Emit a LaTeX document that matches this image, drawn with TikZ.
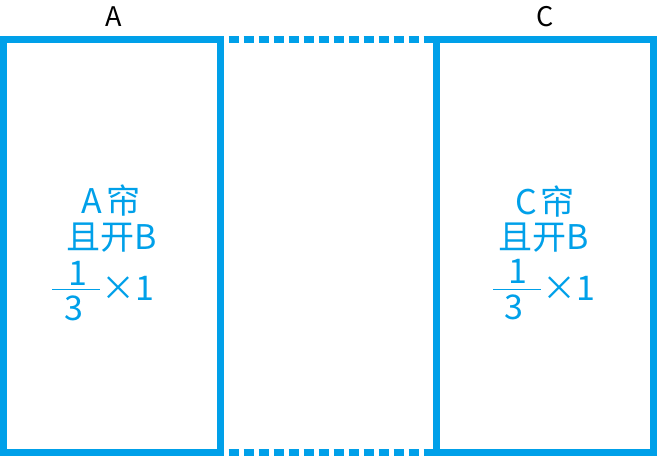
\documentclass[tikz,border=0pt]{standalone}
\usepackage{fontspec}
\setmainfont{Noto Sans CJK SC}
\definecolor{panelblue}{RGB}{0,160,233}
\tikzset{
	panel/.style={draw=panelblue,line width=6.6pt,minimum width=217pt,minimum height=413pt,outer sep=0pt,inner sep=0pt},
	gapline/.style={draw=panelblue,line width=6.6pt,dash pattern=on 10pt off 5pt,dash phase=6.8pt},
	bluetext/.style={text=panelblue,font=\fontsize{34}{40}\selectfont,inner sep=0pt,anchor=base},
	toplabel/.style={font=\fontsize{27}{32}\selectfont,inner sep=0pt,anchor=base},
	fracbar/.style={fill=panelblue,minimum width=48pt,minimum height=1.8pt,inner sep=0pt,outer sep=0pt}
}
\begin{document}
\begin{tikzpicture}[x=1pt,y=-1pt]
	\useasboundingbox (0,0) rectangle (657,456);
	\node[panel] (leftpanel) at (111.8,246) {};
	\node[panel] (rightpanel) at (545.2,246) {};
	\draw[gapline] (leftpanel.north east) -- (rightpanel.north west);
	\draw[gapline] (leftpanel.south east) -- (rightpanel.south west);
	\node[toplabel] (labela) at (114,26) {A};
	\node[toplabel] (labelc) at (545,26) {C};
	% left panel text
	\node[bluetext] (leftname) at (111,213) {A\hspace{4pt}帘};
	\node[bluetext] (leftopen) at (112,249) {且开B};
	\node[bluetext] (leftnum) at (78,285) {1};
	\node[fracbar] (leftbar) at (76,289.5) {};
	\node[bluetext] (leftden) at (74,320) {3};
	\node[bluetext] (lefttimes) at (128,300) {×1};
	% right panel text
	\node[bluetext] (rightname) at (545,214) {C\hspace{4pt}帘};
	\node[bluetext] (rightopen) at (544,249) {且开B};
	\node[bluetext] (rightnum) at (518,283) {1};
	\node[fracbar] (rightbar) at (516.5,289.5) {};
	\node[bluetext] (rightden) at (514,319) {3};
	\node[bluetext] (righttimes) at (569,300) {×1};
\end{tikzpicture}
\end{document}
